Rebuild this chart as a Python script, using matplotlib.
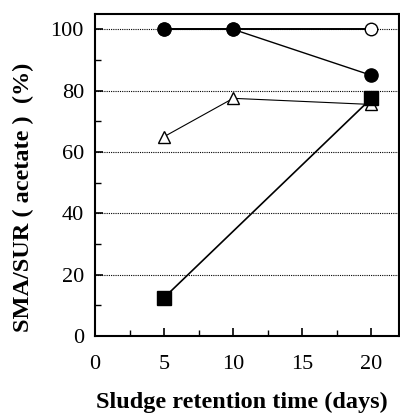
import matplotlib
matplotlib.use("Agg")
import matplotlib.pyplot as plt
from matplotlib.ticker import MultipleLocator

plt.rcParams['font.family'] = ['Liberation Serif', 'DejaVu Serif']

srt = [5, 10, 20]
filled_circle = [100, 100, 85]
open_circle = [100, 100, 100]
triangle = [65, 77.5, 75.5]
square_x = [5, 20]
square = [12.5, 77.5]

fig = plt.figure(figsize=(4.0, 4.18), dpi=100)
ax = fig.add_axes([95/400, 82/418, 304/400, 322/418])

ax.plot(srt, open_circle, '-', color='black', lw=1.4, marker='o', ms=9,
        mfc='white', mec='black', mew=1.0, zorder=3)
ax.plot(srt, filled_circle, '-', color='black', lw=1.0, marker='o', ms=9.5,
        mfc='black', mec='black', zorder=4)
ax.plot(srt, triangle, '-', color='black', lw=0.8, marker='^', ms=8,
        mfc='white', mec='black', mew=1.0, zorder=3)
ax.plot(square_x, square, '-', color='black', lw=1.2, marker='s', ms=9.5,
        mfc='black', mec='black', zorder=5)

ax.set_xlim(0, 22)
ax.set_ylim(0, 105)
ax.xaxis.set_major_locator(MultipleLocator(5))
ax.xaxis.set_minor_locator(MultipleLocator(2.5))
ax.yaxis.set_major_locator(MultipleLocator(20))
ax.yaxis.set_minor_locator(MultipleLocator(10))
ax.tick_params(which='both', direction='in', top=False, right=False, labelsize=16)
ax.tick_params(which='major', length=6, width=1.2)
ax.tick_params(which='minor', length=4, width=1.0)
ax.tick_params(axis='x', pad=14)
ax.tick_params(axis='y', pad=8)
ax.grid(axis='y', which='major', linestyle=(0, (1, 1)), color='black', lw=0.8)
for s in ax.spines.values():
    s.set_linewidth(1.5)

ax.set_xlabel('Sludge retention time (days)', fontsize=17.5, fontweight='bold')
ax.xaxis.set_label_coords((242 - 95) / 304, -(392 - 336) / 322)
ax.set_ylabel('SMA/SUR ( acetate )  (%)', fontsize=17.5, fontweight='bold')
ax.yaxis.set_label_coords(-(95 - 34) / 304, (336 - 197) / 322)

fig.savefig('out.png', dpi=100)
